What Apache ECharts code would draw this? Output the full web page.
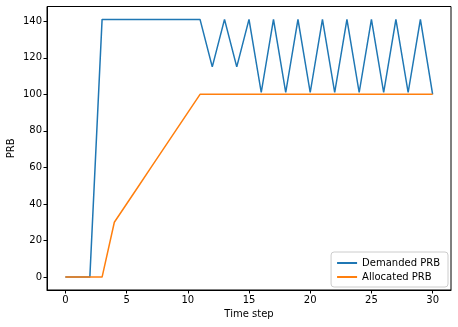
<!DOCTYPE html>
<html>
<head>
<meta charset="utf-8">
<script src="https://cdn.jsdelivr.net/npm/echarts@6/dist/echarts.min.js"></script>
<style>
  html, body { margin: 0; padding: 0; background: #fff; }
  #chart { width: 458px; height: 327px; }
</style>
</head>
<body>
<div id="chart"></div>
<script>
// time steps and PRB values
const timeSteps = [0, 1, 2, 3, 4, 5, 6, 7, 8, 9, 10, 11, 12, 13, 14, 15, 16, 17, 18, 19, 20, 21, 22, 23, 24, 25, 26, 27, 28, 29, 30];
const demanded = [0, 0, 0, 141, 141, 141, 141, 141, 141, 141, 141, 141, 115, 141, 115, 141, 101, 141, 101, 141, 101, 141, 101, 141, 101, 141, 101, 141, 101, 141, 100];
const allocated = [0, 0, 0, 0, 30, 40, 50, 60, 70, 80, 90, 100, 100, 100, 100, 100, 100, 100, 100, 100, 100, 100, 100, 100, 100, 100, 100, 100, 100, 100, 100];
const xTicks = [0, 5, 10, 15, 20, 25, 30];
const yTicks = [0, 20, 40, 60, 80, 100, 120, 140];

const font = "DejaVu Sans";
const pairs = arr => timeSteps.map((t, i) => [t, arr[i]]);

const chart = echarts.init(document.getElementById("chart"));
const option = {
  animation: false,
  textStyle: { fontFamily: font },
  grid: {
    left: 47,
    right: 7,
    top: 6.5,
    bottom: 37,
    outerBoundsMode: "none",
    containLabel: false,
    show: true,
    borderColor: "#000",
    borderWidth: 1
  },
  legend: {
    orient: "vertical",
    right: 10,
    bottom: 40,
    icon: "rect",
    itemWidth: 20,
    itemHeight: 2,
    itemGap: 4,
    padding: [6, 8, 5, 6],
    borderColor: "#ccc",
    borderWidth: 1,
    borderRadius: 3,
    textStyle: { fontFamily: font, fontSize: 10, color: "#000" },
    data: ["Demanded PRB", "Allocated PRB"]
  },
  xAxis: {
    type: "value",
    min: -1.5,
    max: 31.5,
    name: "Time step",
    nameLocation: "middle",
    nameGap: 19,
    nameMoveOverlap: false,
    nameTextStyle: { fontFamily: font, fontSize: 10, color: "#000" },
    splitLine: { show: false },
    axisLine: { onZero: false, lineStyle: { color: "#000" } },
    axisTick: { inside: false, customValues: xTicks, length: 3.5, lineStyle: { color: "#000" } },
    axisLabel: { customValues: xTicks, fontFamily: font, fontSize: 10, color: "#000", margin: 5 }
  },
  yAxis: {
    type: "value",
    min: -7.05,
    max: 148.05,
    name: "PRB",
    nameLocation: "middle",
    nameGap: 31,
    nameMoveOverlap: false,
    nameTextStyle: { fontFamily: font, fontSize: 10, color: "#000" },
    splitLine: { show: false },
    axisLine: { show: true, onZero: false, lineStyle: { color: "#000" } },
    axisTick: { show: true, inside: false, customValues: yTicks, length: 3.5, lineStyle: { color: "#000" } },
    axisLabel: { customValues: yTicks, fontFamily: font, fontSize: 10, color: "#000", margin: 5 }
  },
  series: [
    {
      name: "Demanded PRB",
      type: "line",
      data: pairs(demanded),
      showSymbol: false,
      color: "#1f77b4",
      lineStyle: { width: 1.5 }
    },
    {
      name: "Allocated PRB",
      type: "line",
      data: pairs(allocated),
      showSymbol: false,
      color: "#ff7f0e",
      lineStyle: { width: 1.5 }
    }
  ]
};
chart.setOption(option);
</script>
</body>
</html>
